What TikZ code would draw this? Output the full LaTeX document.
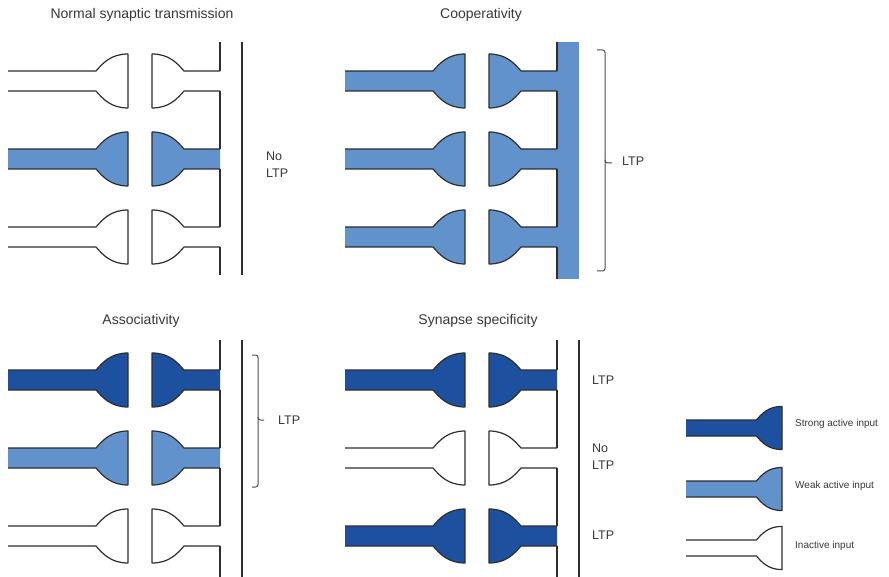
\documentclass[tikz,border=0pt]{standalone}
\usepackage{fontspec}
\setmainfont{Liberation Sans}
\usetikzlibrary{positioning}

\definecolor{strongblue}{RGB}{30,80,160}
\definecolor{weakblue}{RGB}{98,146,204}
\definecolor{edgegray}{RGB}{45,45,45}
\definecolor{textgray}{RGB}{55,55,55}

\tikzset{
  membrane/.style={draw=edgegray, line width=1.2pt, line join=round},
  title/.style={font=\fontsize{14}{16}\selectfont, text=textgray, inner sep=0pt, anchor=base},
  result/.style={font=\fontsize{12.5}{17}\selectfont, text=textgray, inner sep=0pt, anchor=west, align=left},
  key/.style={font=\fontsize{10}{12}\selectfont, text=textgray, inner sep=0pt, anchor=west},
  bracket/.style={draw=edgegray!85, line width=1pt, rounded corners=2.5pt},
}

% axon with its bouton, flat face at the origin
\newcommand{\axonpath}{(-120,-10) -- (-32,-10) .. controls (-25,-18) and (-17,-27) .. (0,-27)
  -- (0,27) .. controls (-17,27) and (-25,18) .. (-32,10) -- (-120,10)}
% spine head opposite, neck running on to the dendrite
\newcommand{\spinepath}{(92,-10) -- (56,-10) .. controls (49,-18) and (41,-27) .. (24,-27)
  -- (24,27) .. controls (41,27) and (49,18) .. (56,10) -- (92,10)}

% #1 x of bouton face, #2 y of row, #3 fill
\newcommand{\synapse}[3]{%
  \begin{scope}[shift={(#1,#2)}]
    \fill[#3] \axonpath -- cycle;
    \fill[#3] \spinepath -- cycle;
    \draw[membrane] \axonpath;
    \draw[membrane] \spinepath;
  \end{scope}}

% #1 x of bouton face, #2 top, #3 bottom, #4-#6 rows
\newcommand{\dendrite}[6]{%
  \draw[membrane] (#1+92,#2) -- (#1+92,#4-10) (#1+92,#4+10) -- (#1+92,#5-10)
    (#1+92,#5+10) -- (#1+92,#6-10) (#1+92,#6+10) -- (#1+92,#3);}

\begin{document}
\begin{tikzpicture}[x=1pt,y=-1pt]
  \useasboundingbox (0,0) rectangle (889,577);

  % normal transmission
  \node[title] (normal) at (142,18.5) {Normal synaptic transmission};
  \synapse{128}{81}{white}
  \synapse{128}{159}{weakblue}
  \synapse{128}{237}{white}
  \dendrite{128}{42}{275}{81}{159}{237}
  \draw[membrane] (242,42) -- (242,275);
  \node[result] (normalres) at (266,165) {No\\LTP};

  % cooperativity
  \node[title] (coop) at (481,18.5) {Cooperativity};
  \fill[weakblue] (557,42) rectangle (579,279);
  \synapse{465}{81}{weakblue}
  \synapse{465}{159}{weakblue}
  \synapse{465}{237}{weakblue}
  \dendrite{465}{42}{279}{81}{159}{237}
  \draw[bracket] (597,50) -| (605,163) -- (612,163);
  \draw[bracket] (605,160) |- (597,271);
  \node[result] (coopres) at (622,161) {LTP};

  % associativity
  \node[title] (assoc) at (141,324.5) {Associativity};
  \synapse{128}{380}{strongblue}
  \synapse{128}{458}{weakblue}
  \synapse{128}{536}{white}
  \dendrite{128}{340}{577}{380}{458}{536}
  \draw[membrane] (242,340) -- (242,577);
  \draw[bracket] (252,355) -| (258,420) -- (264,420);
  \draw[bracket] (258,417) |- (252,487);
  \node[result] (assocres) at (278,420) {LTP};

  % synapse specificity
  \node[title] (spec) at (478,324.5) {Synapse specificity};
  \synapse{465}{380}{strongblue}
  \synapse{465}{458}{white}
  \synapse{465}{536}{strongblue}
  \dendrite{465}{340}{577}{380}{458}{536}
  \draw[membrane] (579,340) -- (579,577);
  \node[result] (specres1) at (592,380) {LTP};
  \node[result] (specres2) at (592,457) {No\\LTP};
  \node[result] (specres3) at (592,535) {LTP};

  % key
  \begin{scope}[shift={(782,428)},scale=0.8]
    \fill[strongblue] \axonpath -- cycle;
    \draw[membrane] \axonpath;
  \end{scope}
  \begin{scope}[shift={(782,489)},scale=0.8]
    \fill[weakblue] \axonpath -- cycle;
    \draw[membrane] \axonpath;
  \end{scope}
  \begin{scope}[shift={(782,548)},scale=0.8]
    \draw[membrane] \axonpath;
  \end{scope}
  \node[key] (strongkey) at (795,424) {Strong active input};
  \node[key] (weakkey) at (795,486) {Weak active input};
  \node[key] (inactivekey) at (795,546) {Inactive input};
\end{tikzpicture}
\end{document}
